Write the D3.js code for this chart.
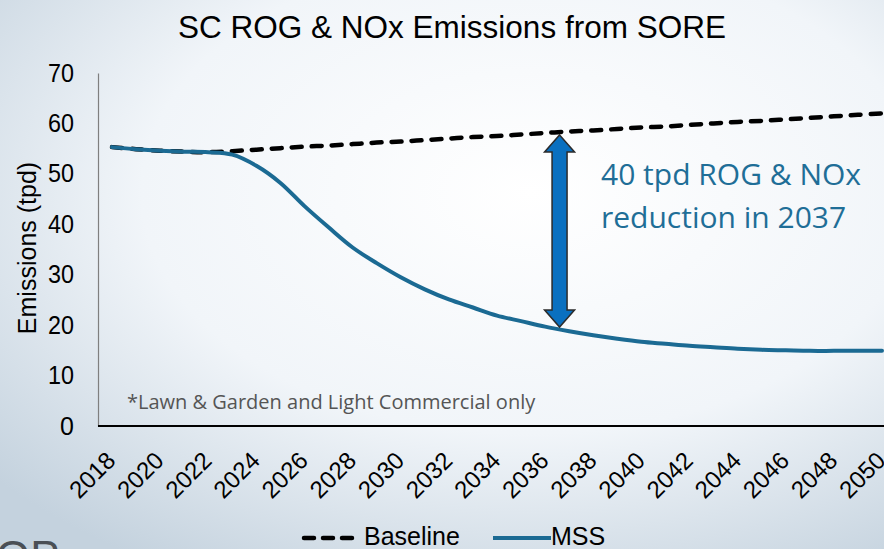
<!DOCTYPE html>
<html>
<head>
<meta charset="utf-8">
<script src="https://cdn.jsdelivr.net/npm/d3@7"></script>
<style>
  body { margin: 0; overflow: hidden; }
  svg { display: block; }
</style>
</head>
<body>
<div class="chart"></div>
<script>
var W = 884, H = 549;

// years and series (tpd)
var years = d3.range(2018, 2051);
var baseline = [55.3, 54.9, 54.6, 54.4, 54.3, 54.5, 54.8, 55.1, 55.4, 55.6, 55.9, 56.2,
  56.4, 56.7, 57.0, 57.3, 57.5, 57.8, 58.1, 58.4, 58.6, 58.9, 59.2, 59.4, 59.7, 60.0,
  60.3, 60.5, 60.8, 61.1, 61.4, 61.7, 62.0];
var mss = [55.3, 54.9, 54.6, 54.4, 54.3, 53.8, 51.6, 48.2, 43.6, 39.4, 35.4, 32.3,
  29.5, 27.1, 25.1, 23.5, 21.9, 20.8, 19.7, 18.8, 18.0, 17.3, 16.7, 16.3, 15.9, 15.6,
  15.3, 15.1, 15.0, 14.9, 14.9, 14.9, 14.9];
var yTicks = [0, 10, 20, 30, 40, 50, 60, 70];
var xLabels = d3.range(2018, 2051, 2);
var arrowYear = 2036.6;

var svg = d3.select(".chart").append("svg")
  .attr("width", W).attr("height", H);

// slide background
var defs = svg.append("defs");
var grad = defs.append("radialGradient").attr("id", "bg")
  .attr("cx", "0.6").attr("cy", "0.35").attr("r", "0.8");
grad.append("stop").attr("offset", "0%").attr("stop-color", "#ffffff");
grad.append("stop").attr("offset", "55%").attr("stop-color", "#f1f5f9");
grad.append("stop").attr("offset", "100%").attr("stop-color", "#c4d2de");
svg.append("rect").attr("width", W).attr("height", H).attr("fill", "url(#bg)");

svg.append("text").attr("x", -4).attr("y", 572)
  .attr("font-family", "Liberation Sans, Arial, sans-serif")
  .attr("font-size", 44).attr("fill", "#4a4f55").text("OP");

var x = d3.scalePoint().domain(years).range([112, 882]);
var xLin = d3.scaleLinear().domain([2018, 2050]).range([112, 882]);
var y = d3.scaleLinear().domain([0, 70]).range([426, 73]);

var sans = "Liberation Sans, Arial, sans-serif";

// title
svg.append("text").attr("x", 452).attr("y", 38)
  .attr("text-anchor", "middle")
  .attr("font-family", sans)
  .attr("font-size", 31.5).attr("fill", "#000")
  .text("SC ROG & NOx Emissions from SORE");

// y axis
var yAxis = svg.append("g").attr("transform", "translate(98,0)")
  .call(d3.axisLeft(y).tickValues(yTicks).tickSize(0).tickPadding(24));
yAxis.select(".domain").attr("stroke", "#7f7f7f").attr("stroke-width", 1.2);
yAxis.selectAll("text")
  .attr("font-family", sans)
  .attr("font-size", 25).attr("fill", "#000")
  .attr("textLength", 26).attr("lengthAdjust", "spacingAndGlyphs");
yAxis.selectAll(".tick text").filter(function(d) { return d === 0; })
  .attr("textLength", null);

svg.append("text")
  .attr("transform", "translate(36,248) rotate(-90)")
  .attr("text-anchor", "middle")
  .attr("font-family", sans)
  .attr("font-size", 25).attr("fill", "#000")
  .text("Emissions (tpd)");

// x axis
svg.append("line").attr("x1", 98).attr("x2", W).attr("y1", y(0)).attr("y2", y(0))
  .attr("stroke", "#000").attr("stroke-width", 2.2);
svg.append("g").selectAll("text").data(xLabels).enter()
  .append("text")
  .attr("transform", function(d) { return "translate(" + (x(d) - 1) + "," + 456 + ") rotate(-45)"; })
  .attr("text-anchor", "end")
  .attr("dy", "0.35em")
  .attr("font-family", sans)
  .attr("font-size", 24).attr("fill", "#000")
  .text(function(d) { return d; });

// lines (smoothed like the spreadsheet chart)
var line = d3.line().curve(d3.curveCatmullRom.alpha(0.5))
  .x(function(d, i) { return x(years[i]); })
  .y(function(d) { return y(d); });

svg.append("path").datum(baseline)
  .attr("d", line).attr("fill", "none")
  .attr("stroke", "#000").attr("stroke-width", 4.5)
  .attr("stroke-linecap", "round")
  .attr("stroke-dasharray", "10,10");
svg.append("path").datum(mss)
  .attr("d", line).attr("fill", "none")
  .attr("stroke", "#1b6a93").attr("stroke-width", 4)
  .attr("stroke-linecap", "round");

// double arrow
var ax = xLin(arrowYear), aTop = 135, aBot = 327, hw = 15, sw = 7.5, hl = 17;
var arrowPts = [
  [ax, aTop], [ax + hw, aTop + hl], [ax + sw, aTop + hl], [ax + sw, aBot - hl],
  [ax + hw, aBot - hl], [ax, aBot], [ax - hw, aBot - hl], [ax - sw, aBot - hl],
  [ax - sw, aTop + hl], [ax - hw, aTop + hl]
];
svg.append("path").attr("d", d3.line()(arrowPts) + "Z")
  .attr("fill", "#0a70c0").attr("stroke", "#2b2b2b").attr("stroke-width", 1.5);

// annotation
var ann = svg.append("text")
  .attr("font-family", "Open Sans, sans-serif")
  .attr("font-size", 30).attr("fill", "#1f6e97");
ann.append("tspan").attr("x", 601).attr("y", 185).text("40 tpd ROG & NOx");
ann.append("tspan").attr("x", 601).attr("y", 228).text("reduction in 2037");

svg.append("text").attr("x", 127).attr("y", 409)
  .attr("font-family", "Open Sans, sans-serif")
  .attr("font-size", 20).attr("fill", "#555")
  .text("*Lawn & Garden and Light Commercial only");

// legend
var lg = svg.append("g").attr("font-family", sans).attr("font-size", 25);
lg.append("line").attr("x1", 304).attr("x2", 354).attr("y1", 538).attr("y2", 538)
  .attr("stroke", "#000").attr("stroke-width", 4.5)
  .attr("stroke-linecap", "round").attr("stroke-dasharray", "10,9");
lg.append("text").attr("x", 364).attr("y", 545).text("Baseline");
lg.append("line").attr("x1", 493).attr("x2", 551).attr("y1", 538).attr("y2", 538)
  .attr("stroke", "#1b6a93").attr("stroke-width", 4);
lg.append("text").attr("x", 551).attr("y", 545).text("MSS");
</script>
</body>
</html>
